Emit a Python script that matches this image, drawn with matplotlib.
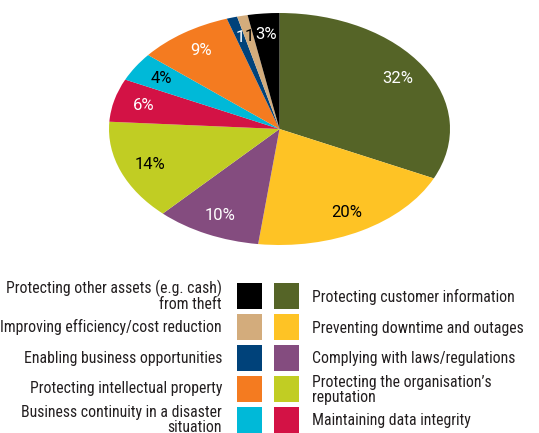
import matplotlib.pyplot as plt
from matplotlib.patches import Rectangle

plt.rcParams['font.family'] = ['Roboto Condensed', 'DejaVu Sans']

# slices, clockwise from 12 o'clock
categories = ['Protecting customer information',
              'Preventing downtime and outages',
              'Complying with laws/regulations',
              "Protecting the organisation\u2019s\nreputation",
              'Maintaining data integrity',
              'Business continuity in a disaster\nsituation',
              'Protecting intellectual property',
              'Enabling business opportunities',
              'Improving efficiency/cost reduction',
              'Protecting other assets (e.g. cash)\nfrom theft']
values = [32, 20, 10, 14, 6, 4, 9, 1, 1, 3]
slice_labels = ['32%', '20%', '10%', '14%', '6%', '4%', '9%', '1', '1', '3%']
colors = ['#556427', '#FEC325', '#844C7F', '#C1CD23', '#D31245',
          '#00B9D8', '#F47B20', '#00427A', '#D3AC7C', '#000000']
label_colors = ['white', 'black', 'white', 'black', 'white',
                'black', 'white', 'white', 'black', 'white']

# legend layout: right column = first five, left column = last five reversed
right_idx = [0, 1, 2, 3, 4]
left_idx = [9, 8, 7, 6, 5]

fig = plt.figure(figsize=(5.39, 4.33), dpi=100)

W, H = 539.0, 433.0
ax = fig.add_axes([109 / W, 1 - 245 / H, 341 / W, 232 / H])
wedges, texts = ax.pie(values, colors=colors, labels=slice_labels,
                       startangle=90, counterclock=False,
                       labeldistance=0.82, radius=1.0,
                       wedgeprops=dict(linewidth=0))
for t, c in zip(texts, label_colors):
    t.set_ha('center')
    t.set_va('center')
    t.set_color(c)
    t.set_fontsize(12)
    t.set_family(['Roboto', 'DejaVu Sans'])
ax.set_aspect('auto')
ax.set_xlim(-1, 1)
ax.set_ylim(-1, 1)

# legend
lax = fig.add_axes([0, 0, 1, 1])
lax.set_xlim(0, W)
lax.set_ylim(H, 0)
lax.axis('off')
row_top = 283
step = 31
sw = 25
sh = 26
for r in range(5):
    y0 = row_top + r * step
    yc = y0 + sh / 2
    li = left_idx[r]
    ri = right_idx[r]
    lax.add_patch(Rectangle((237, y0), sw, sh, color=colors[li], lw=0))
    lax.add_patch(Rectangle((274, y0), sw, sh, color=colors[ri], lw=0))
    lax.text(222, yc, categories[li], ha='right', va='center',
             multialignment='right', fontsize=11.3, color='#231F20',
             linespacing=1.05)
    lax.text(312, yc + 1, categories[ri], ha='left', va='center',
             fontsize=11.3, color='#231F20', linespacing=1.05)

fig.savefig('out.png', dpi=100)
